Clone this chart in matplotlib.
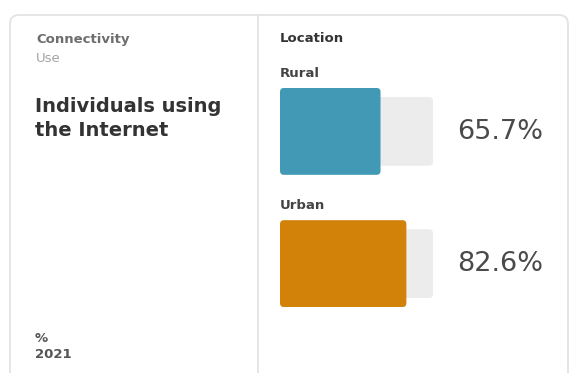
import matplotlib
matplotlib.use("Agg")
import matplotlib.pyplot as plt
from matplotlib.patches import FancyBboxPatch

plt.rcParams['font.family'] = ['DejaVu Sans']

# values shown in the card
locations = ['Rural', 'Urban']
shares = [65.7, 82.6]
bar_colors = ['#4199b6', '#d28208']
track_color = '#ececec'

W, H = 571, 373
fig = plt.figure(figsize=(W / 100, H / 100), dpi=100)
fig.patch.set_facecolor('white')


def fx(px):
    return px / W


def fy(py):
    return 1 - py / H


# card outline and the divider between the two columns
bg = fig.add_axes([0, 0, 1, 1])
bg.set_xlim(0, W)
bg.set_ylim(H, 0)
bg.axis('off')
card = FancyBboxPatch((10, 15), 558, 400, boxstyle='round,pad=0,rounding_size=9',
                      facecolor='white', edgecolor='#e3e3e3', linewidth=1.3)
bg.add_patch(card)
bg.plot([257.5, 257.5], [15, H], color='#e3e3e3', linewidth=1.3)

# left column text
fig.text(fx(36), fy(40), 'Connectivity', fontsize=9.5, color='#6e6e6e',
         fontweight='bold', va='center')
fig.text(fx(36), fy(58), 'Use', fontsize=9.5, color='#a3a3a3', va='center')
fig.text(fx(35), fy(106), 'Individuals using', fontsize=14, color='#333333',
         fontweight='bold', va='center')
fig.text(fx(35), fy(131), 'the Internet', fontsize=14, color='#333333',
         fontweight='bold', va='center')
fig.text(fx(35), fy(338), '%', fontsize=9.5, color='#555555',
         fontweight='bold', va='center')
fig.text(fx(35), fy(355), '2021', fontsize=9.5, color='#555555',
         fontweight='bold', va='center')

# right column header
fig.text(fx(280), fy(39), 'Location', fontsize=9.5, color='#333333',
         fontweight='bold', va='center')

# bar axes: 0..100 over the track width
left, right = 280, 433
top, bottom = 88, 307
ax = fig.add_axes([fx(left), fy(bottom), fx(right - left), (bottom - top) / H])
ax.set_xlim(0, 100)
ax.set_ylim(1.328, -0.328)
ax.axis('off')

ypos = list(range(len(locations)))
tracks = ax.barh(ypos, [100] * len(shares), height=0.52, color=track_color)
fills = ax.barh(ypos, shares, height=0.657, color=bar_colors)

# swap the plain rectangles for ones with softly rounded corners
px_per_x = (right - left) / 100
px_per_y = (bottom - top) / 1.656
for r in list(tracks) + list(fills):
    r.set_visible(False)
    ax.add_patch(FancyBboxPatch((r.get_x(), r.get_y()), r.get_width(), r.get_height(),
                                boxstyle='round,pad=0,rounding_size=%.2f' % (4 / px_per_x),
                                mutation_aspect=px_per_x / px_per_y,
                                facecolor=r.get_facecolor(), edgecolor='none'))

for i, (name, v) in enumerate(zip(locations, shares)):
    ax.text(0, i - 0.44, name, fontsize=9.5, color='#444444',
            fontweight='bold', va='center', ha='left')
    ax.text(116, i + 0.005, f'{v}%', fontsize=19.5, color='#4a4a4a',
            va='center', ha='left', clip_on=False)

fig.savefig('out.png', dpi=100)
